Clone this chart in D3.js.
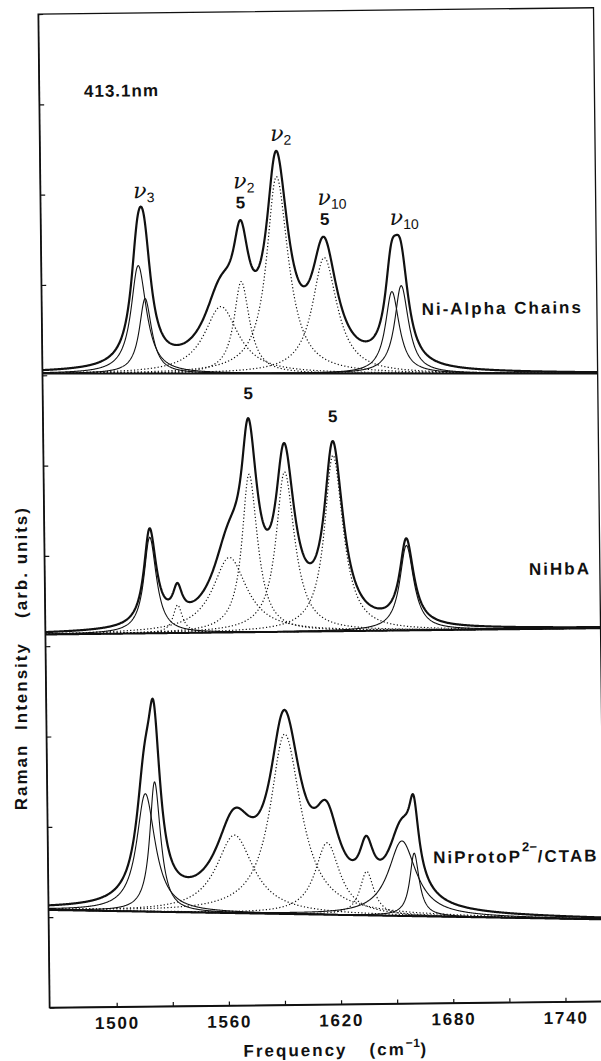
<!DOCTYPE html>
<html>
<head>
<meta charset="utf-8">
<script src="https://cdn.jsdelivr.net/npm/d3@7"></script>
<style>
    body { margin: 0; background: #fff; }
    svg { display: block; }
    text { font-family: "Liberation Sans", Arial, sans-serif; font-weight: bold; fill: #111; letter-spacing: 2px; }
    .nu { font-family: "DejaVu Serif", serif; font-style: italic; font-weight: normal; letter-spacing: 0; }
    .sub { font-family: "Liberation Sans", Arial, sans-serif; font-style: normal; font-weight: normal; letter-spacing: 0; }
</style>
</head>
<body>
<div id="chart"></div>
<script>
const width = 601;
const height = 1061;

// frequency window (cm-1) and axis ticks
const freqDomain = [1464, 1761];
const freqTicks = [1500, 1530, 1560, 1590, 1620, 1650, 1680, 1710, 1740];
const freqLabels = [1500, 1560, 1620, 1680, 1740];
const intensityTicks = d3.range(0, 111, 10);

// Ni-Alpha Chains: fitted bands (centre cm-1, height arb. units, FWHM cm-1)
const alphaCentres = [1516, 1519.5, 1560, 1571, 1590.5, 1615.5, 1651.5, 1656.5];
const alphaHeights = [11.96, 8.30, 7.42, 10.19, 21.81, 12.84, 9.08, 9.74];
const alphaWidths = [10, 8, 22, 10, 14, 16, 9, 9];
const alphaSolid = [0, 1, 6, 7];

// NiHbA
const hbaCentres = [1520.5, 1535, 1563, 1574, 1593, 1619, 1657.7];
const hbaHeights = [10.63, 3.10, 8.30, 17.49, 17.71, 19.49, 9.41];
const hbaWidths = [8, 6, 22, 10, 12, 12, 9];
const hbaSolid = [0, 6];

// NiProtoP2-/CTAB
const protoCentres = [1516.6, 1521.6, 1564, 1591.5, 1613.5, 1634.5, 1653.5, 1660];
const protoHeights = [13.06, 14.39, 8.64, 19.93, 7.97, 4.87, 8.30, 6.98];
const protoWidths = [12, 7, 24, 20, 16, 9, 18, 6];
const protoSolid = [0, 1, 6, 7];

// vertical offset of each trace and its linear background (left, right)
const panelOffsets = [69.5, 41.3, 9.06];
const panelBackgrounds = [[0.69, 0], [0, 0], [1.74, 0]];

// peak annotations
const alphaMarks = [
    { f: 1517, nu: "3" },
    { f: 1570.5, nu: "2", five: true },
    { f: 1590.5, nu: "2" },
    { f: 1615.5, nu: "10", five: true },
    { f: 1654, nu: "10" }
];
const hbaMarks = [{ f: 1574 }, { f: 1619 }];

const panels = [
    { centres: alphaCentres, heights: alphaHeights, widths: alphaWidths, solid: alphaSolid },
    { centres: hbaCentres, heights: hbaHeights, widths: hbaWidths, solid: hbaSolid },
    { centres: protoCentres, heights: protoHeights, widths: protoWidths, solid: protoSolid }
].map((p, i) => ({ ...p, offset: panelOffsets[i], bg: panelBackgrounds[i] }));

const x = d3.scaleLinear().domain(freqDomain).range([49.4, 604.8]);
const y = d3.scaleLinear().domain([0, 110]).range([1007.5, 14]);

const lorentz = (f, c, h, w) => h / (1 + Math.pow((f - c) / (w / 2), 2));
const background = (p, f) => p.bg[0] + (p.bg[1] - p.bg[0]) * (f - freqDomain[0]) / (freqDomain[1] - freqDomain[0]);
const band = (p, i, f) => lorentz(f, p.centres[i], p.heights[i], p.widths[i]);
const total = (p, f) => p.offset + background(p, f) + d3.sum(p.centres, (c, i) => band(p, i, f));

const freqs = d3.range(freqDomain[0], freqDomain[1] + 0.001, 0.25);
const line = d3.line().x(d => x(d[0])).y(d => y(d[1]));

const svg = d3.select("#chart").append("svg")
    .attr("width", width)
    .attr("height", height);

svg.append("rect").attr("width", width).attr("height", height).attr("fill", "#fff");

// the scanned figure sits slightly tilted
const g = svg.append("g").attr("transform", `rotate(-0.65, ${x(freqDomain[0])}, ${y(0)})`);

g.append("clipPath").attr("id", "frame")
    .append("rect")
    .attr("x", x.range()[0]).attr("y", y.range()[1])
    .attr("width", x.range()[1] - x.range()[0])
    .attr("height", y.range()[0] - y.range()[1]);

const plot = g.append("g").attr("clip-path", "url(#frame)");

panels.forEach(p => {
    const pg = plot.append("g");
    // background line
    pg.append("path")
        .attr("d", line(freqs.map(f => [f, p.offset + background(p, f)])))
        .attr("fill", "none").attr("stroke", "#111").attr("stroke-width", 2);
    // fitted components
    p.centres.forEach((c, i) => {
        const solid = p.solid.includes(i);
        pg.append("path")
            .attr("d", line(freqs.map(f => [f, p.offset + background(p, f) + band(p, i, f)])))
            .attr("fill", "none")
            .attr("stroke", "#111")
            .attr("stroke-width", solid ? 1.1 : 1.2)
            .attr("stroke-dasharray", solid ? null : "1.2,2.2");
    });
    // total fit
    pg.append("path")
        .attr("d", line(freqs.map(f => [f, total(p, f)])))
        .attr("fill", "none").attr("stroke", "#111").attr("stroke-width", 2.2)
        .attr("stroke-linejoin", "round");
});

// frame and axes
g.append("rect")
    .attr("x", x.range()[0]).attr("y", y.range()[1])
    .attr("width", x.range()[1] - x.range()[0])
    .attr("height", y.range()[0] - y.range()[1])
    .attr("fill", "none").attr("stroke", "#111").attr("stroke-width", 1.3);

const xAxis = g.append("g")
    .attr("transform", `translate(0,${y(0)})`)
    .call(d3.axisBottom(x)
        .tickValues(freqTicks)
        .tickSize(-4)
        .tickSizeOuter(0)
        .tickPadding(10)
        .tickFormat(d => freqLabels.includes(d) ? d : ""));
xAxis.select(".domain").attr("stroke", "#111").attr("stroke-width", 1.6);
xAxis.selectAll(".tick line").attr("stroke", "#111").attr("stroke-width", 1.2);
xAxis.selectAll(".tick text")
    .attr("font-family", null).attr("font-size", null)
    .style("font-size", "17px").style("letter-spacing", "1.8px").attr("fill", "#111");

const yAxis = g.append("g")
    .attr("transform", `translate(${x(freqDomain[0])},0)`)
    .call(d3.axisLeft(y).tickValues(intensityTicks).tickSize(-5).tickSizeOuter(0).tickFormat(""));
yAxis.select(".domain").attr("stroke", "#111").attr("stroke-width", 1.3);
yAxis.selectAll(".tick line").attr("stroke", "#111").attr("stroke-width", 1.2);

// peak labels
const labels = g.append("g");
const nuLabel = (px, py, sub) => {
    const t = labels.append("text").attr("x", px - 6).attr("y", py);
    t.append("tspan").attr("class", "nu").style("font-size", "22px").text("ν");
    t.append("tspan").attr("class", "sub").style("font-size", "14px").attr("dy", 4).text(sub);
};
alphaMarks.forEach(m => {
    const px = x(m.f);
    const py = y(total(panels[0], m.f));
    if (m.five) {
        labels.append("text").attr("x", px + 1).attr("y", py - 12)
            .attr("text-anchor", "middle").style("font-size", "17px").style("letter-spacing", "0").text("5");
        nuLabel(px, py - 32, m.nu);
    } else {
        nuLabel(px, py - 10, m.nu);
    }
});
hbaMarks.forEach(m => {
    labels.append("text").attr("x", x(m.f)).attr("y", y(total(panels[1], m.f)) - 19)
        .attr("text-anchor", "middle").style("font-size", "17px").style("letter-spacing", "0").text("5");
});

// sample names
labels.append("text").attr("x", 94.3).attr("y", 97.4).style("font-size", "17px").style("letter-spacing", "1px").text("413.1nm");
labels.append("text").attr("x", 429.5).attr("y", 319.2).style("font-size", "17px").text("Ni-Alpha Chains");
labels.append("text").attr("x", 533.9).attr("y", 580.4).style("font-size", "17px").text("NiHbA");
const proto = labels.append("text").attr("x", 434.9).attr("y", 867.7).style("font-size", "17px");
proto.append("tspan").text("NiProtoP");
proto.append("tspan").attr("dy", -11).style("font-size", "13px").style("letter-spacing", "0.5px").text("2−");
proto.append("tspan").attr("dy", 11).text("/CTAB");

// x title
const xt = labels.append("text").attr("x", 243).attr("y", 1059).style("font-size", "17px");
xt.append("tspan").text("Frequency");
xt.append("tspan").attr("dx", 22).text("(cm");
xt.append("tspan").attr("dy", -8).style("font-size", "12px").style("letter-spacing", "0.5px").text("−1");
xt.append("tspan").attr("dy", 8).text(")");

// y title (upright in the scan)
const yTitle = [["(arb. units)", 562], ["Intensity", 686], ["Raman", 777]];
yTitle.forEach(([t, cy]) => {
    svg.append("text")
        .attr("transform", `translate(27,${cy}) rotate(-90)`)
        .attr("text-anchor", "middle")
        .style("font-size", "17px")
        .text(t);
});
</script>
</body>
</html>
